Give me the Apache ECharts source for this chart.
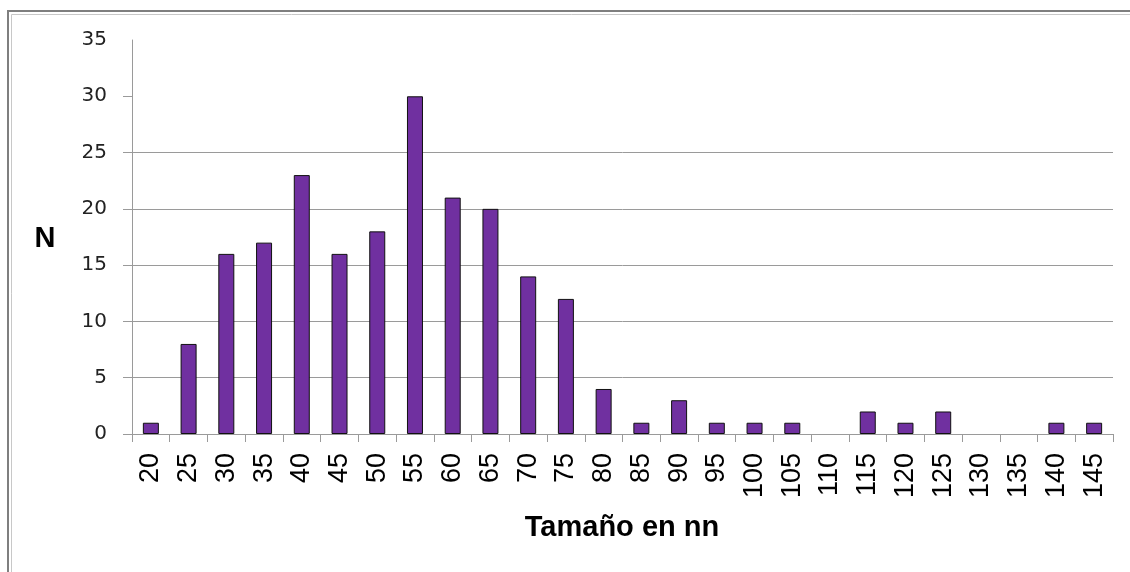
<!DOCTYPE html>
<html>
<head>
<meta charset="utf-8">
<script src="https://cdn.jsdelivr.net/npm/echarts@6/dist/echarts.min.js"></script>
<style>
html,body{margin:0;padding:0;background:#fff;}
#chart{width:1130px;height:572px;}
</style>
</head>
<body>
<div id="chart"></div>
<script>
const categories = ['20','25','30','35','40','45','50','55','60','65','70','75','80','85','90','95','100','105','110','115','120','125','130','135','140','145'];
const counts = [1,8,16,17,23,16,18,30,21,20,14,12,4,1,3,1,1,1,0,2,1,2,0,0,1,1];
const yTicks = [0,5,10,15,20,25,30];
const xTitle = 'Tamaño en nn';
const yTitle = 'N';

const chart = echarts.init(document.getElementById('chart'));
chart.setOption({
  animation: false,
  backgroundColor: '#ffffff',
  grid: { left: 132, right: 17, top: 40, bottom: 138 },
  xAxis: {
    type: 'category',
    data: categories,
    axisLine: { show: true, lineStyle: { color: '#9a9a9a', width: 1 } },
    axisTick: { show: true, length: 8, lineStyle: { color: '#9a9a9a' } },
    axisLabel: {
      rotate: 90, margin: 19, color: '#000',
      fontFamily: 'Liberation Sans', fontSize: 27, interval: 0
    },
    splitLine: { show: false }
  },
  yAxis: {
    type: 'value',
    min: 0, max: 35, interval: 5,
    axisLine: { show: true, lineStyle: { color: '#9a9a9a', width: 1 } },
    axisTick: { show: true, length: 9, lineStyle: { color: '#9a9a9a' }, customValues: yTicks },
    axisLabel: { margin: 25, color: '#222', fontFamily: 'DejaVu Sans', fontSize: 20 },
    splitLine: { show: true, showMaxLine: false, lineStyle: { color: '#9a9a9a', width: 1 } }
  },
  series: [{
    type: 'bar',
    data: counts.map(v => (v === 0 ? '-' : v)),
    barWidth: 16,
    itemStyle: { color: '#7030A0', borderColor: '#111', borderWidth: 1 }
  }],
  graphic: [
    { type: 'rect', shape: { x: 8, y: 11, width: 1140, height: 600 },
      style: { fill: 'none', stroke: '#7f7f7f', lineWidth: 2 }, silent: true },
    { type: 'rect', shape: { x: 11.5, y: 14.5, width: 1140, height: 600 },
      style: { fill: 'none', stroke: '#c8c8c8', lineWidth: 1 }, silent: true },
    { type: 'text', x: 622, y: 528,
      style: { text: xTitle, font: 'bold 29px "Liberation Sans"', fill: '#000', align: 'center', verticalAlign: 'middle' } },
    { type: 'text', x: 45, y: 239,
      style: { text: yTitle, font: 'bold 29px "Liberation Sans"', fill: '#000', align: 'center', verticalAlign: 'middle' } }
  ]
});
</script>
</body>
</html>
